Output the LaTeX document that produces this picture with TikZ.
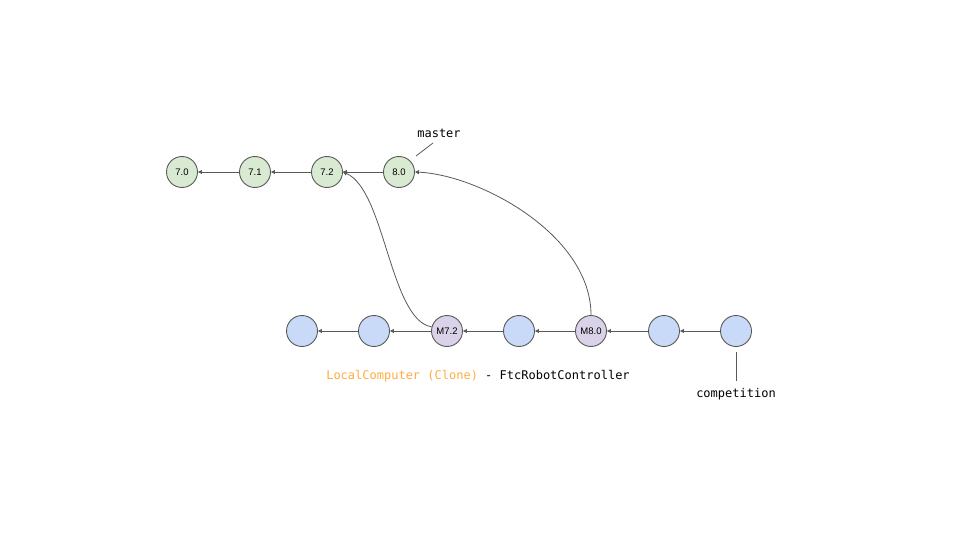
\documentclass[tikz,border=0pt]{standalone}
\usepackage{fontspec}
\setmainfont{Liberation Sans}
\newfontfamily\monofont{DejaVu Sans Mono}
\usetikzlibrary{arrows.meta}
\definecolor{lnc}{HTML}{595959}
\definecolor{gfill}{HTML}{D9EAD3}
\definecolor{bfill}{HTML}{C9DAF8}
\definecolor{pfill}{HTML}{D9D2E9}
\definecolor{orng}{HTML}{FFAB40}
\tikzset{
  commit/.style={circle,draw=lnc,line width=0.9pt,minimum size=31pt,inner sep=0pt,font=\fontsize{9.5}{10}\selectfont},
  gc/.style={commit,fill=gfill},
  bc/.style={commit,fill=bfill},
  pc/.style={commit,fill=pfill},
  conn/.style={draw=lnc,line width=0.8pt,-{Triangle[length=4pt,width=4pt]}},
  lab/.style={font=\monofont\fontsize{12}{14}\selectfont,inner sep=0pt},
  ptr/.style={draw=lnc,line width=0.8pt}
}
\begin{document}
\begin{tikzpicture}[x=1pt,y=-1pt]
\useasboundingbox (0,0) rectangle (960,540);
\node[gc] (a0) at (182,172) {7.0};
\node[gc] (a1) at (255,172) {7.1};
\node[gc] (a2) at (327,172) {7.2};
\node[gc] (a3) at (399,172) {8.0};
\node[bc] (b0) at (302,331) {};
\node[bc] (b1) at (374,331) {};
\node[pc] (b2) at (447,331) {M7.2};
\node[bc] (b3) at (519,331) {};
\node[pc] (b4) at (591,331) {M8.0};
\node[bc] (b5) at (664,331) {};
\node[bc] (b6) at (736,331) {};
\draw[conn] (a1) -- (a0);
\draw[conn] (a2) -- (a1);
\draw[conn] (a3) -- (a2);
\draw[conn] (b1) -- (b0);
\draw[conn] (b2) -- (b1);
\draw[conn] (b3) -- (b2);
\draw[conn] (b4) -- (b3);
\draw[conn] (b5) -- (b4);
\draw[conn] (b6) -- (b5);
\draw[conn] (b2.165) .. controls (390,320) and (385,190) .. (a2.east);
\draw[conn] (b4.north) .. controls (591,235) and (480,175) .. (a3.east);
\node[lab] (master) at (439,133) {master};
\coordinate (m1) at (416,156);
\coordinate (m2) at (433,143);
\draw[ptr] (m1) -- (m2);
\node[lab] (comp) at (736,394) {competition};
\coordinate (c1) at (736,352);
\coordinate (c2) at (736,381);
\draw[ptr] (c1) -- (c2);
\node[lab] (title) at (478,376) {\textcolor{orng}{LocalComputer (Clone)} - FtcRobotController};
\end{tikzpicture}
\end{document}
